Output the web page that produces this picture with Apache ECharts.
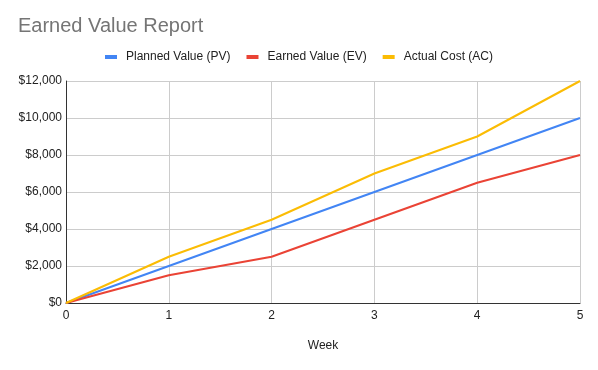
<!DOCTYPE html>
<html><head><meta charset="utf-8">
<script src="https://cdn.jsdelivr.net/npm/echarts@6/dist/echarts.min.js"></script>
<style>html,body{margin:0;padding:0;background:#fff}#c{width:598px;height:370px}</style>
</head><body><div id="c"></div>
<script>
const weeks = [0, 1, 2, 3, 4, 5];
const plannedValue = [0, 2000, 4000, 6000, 8000, 10000];
const earnedValue = [0, 1500, 2500, 4500, 6500, 8000];
const actualCost = [0, 2500, 4500, 7000, 9000, 12000];
const seriesNames = ['Planned Value (PV)', 'Earned Value (EV)', 'Actual Cost (AC)'];
const colors = ['#4285F4', '#EA4335', '#FBBC04'];
const font = 'Arial, "Liberation Sans", sans-serif';

const chart = echarts.init(document.getElementById('c'), null, {renderer: 'canvas'});
const mk = (name, vals, color) => ({
  name, type: 'line', data: weeks.map((w, i) => [w, vals[i]]),
  showSymbol: false, symbol: 'none', lineStyle: {width: 2, color}, itemStyle: {color}, z: 3
});
chart.setOption({
  animation: false,
  title: {text: 'Earned Value Report', left: 13, top: 11,
    textStyle: {fontFamily: font, fontSize: 20, fontWeight: 'normal', color: '#757575'}},
  legend: {top: 46, left: 'center', itemWidth: 12, itemHeight: 4, itemGap: 16,
    icon: 'rect', data: seriesNames,
    textStyle: {fontFamily: font, fontSize: 12, color: '#222', padding: [0, 0, 0, 4]}},
  grid: {left: 66, right: 18, top: 81, bottom: 67, containLabel: false},
  xAxis: {type: 'value', min: 0, max: 5, interval: 1, name: 'Week', nameLocation: 'middle', nameGap: 37,
    nameTextStyle: {fontFamily: font, fontSize: 12, color: '#222'},
    axisLine: {show: true, lineStyle: {color: '#333', width: 1}},
    axisTick: {show: false},
    axisLabel: {fontFamily: font, fontSize: 12, color: '#222', margin: 7},
    splitLine: {show: true, lineStyle: {color: '#ccc', width: 1}}},
  yAxis: {type: 'value', min: 0, max: 12000, interval: 2000,
    axisLine: {show: true, lineStyle: {color: '#333', width: 1}},
    axisTick: {show: false},
    axisLabel: {fontFamily: font, fontSize: 12, color: '#222', margin: 4,
      formatter: v => '$' + v.toLocaleString('en-US')},
    splitLine: {show: true, lineStyle: {color: '#ccc', width: 1}}},
  series: [
    mk(seriesNames[0], plannedValue, colors[0]),
    mk(seriesNames[1], earnedValue, colors[1]),
    mk(seriesNames[2], actualCost, colors[2])
  ]
});
</script></body></html>
